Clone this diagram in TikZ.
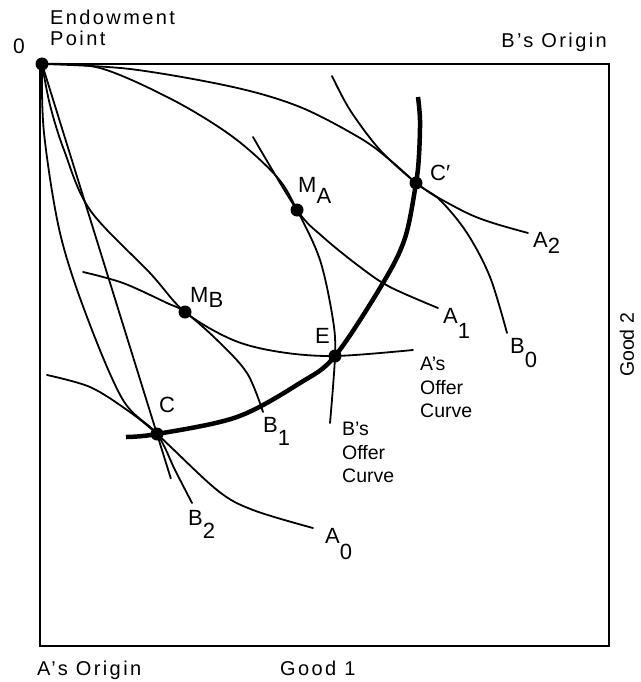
\documentclass[tikz,border=0pt]{standalone}
\usepackage{fontspec}
\setmainfont{Liberation Sans}
\newfontfamily\espace[LetterSpace=12]{Liberation Sans}
\usepackage{tikz}
\usetikzlibrary{calc}
\newcommand{\subl}[3][11pt]{#2\raisebox{-#1}{#3}}
\tikzset{
  cadre/.style={draw=black, line width=2.5pt},
  courbe/.style={draw=black, line width=1.8pt, line join=round, line cap=round},
  epais/.style={draw=black, line width=4.5pt, line join=round},
  pt/.style={circle, fill=black, inner sep=0pt, minimum size=13pt},
  etiq/.style={inner sep=0pt, font=\fontsize{22}{24}\selectfont},
  texte/.style={inner sep=0pt, font=\fontsize{19.5}{23.5}\selectfont, align=left},
  axe/.style={inner sep=0pt, font=\espace\fontsize{20}{20.5}\selectfont, align=left},
}

\begin{document}
\begin{tikzpicture}[x=1pt, y=-1pt]
  \useasboundingbox (0,0) rectangle (640,682);
  \coordinate (hg) at (40,64);
  \coordinate (bd) at (609,646);
  \draw[cadre] (hg) rectangle (bd);
  % points
  \node[pt] (O) at (42,64) {};
  \node[pt] (MA) at (297,210) {};
  \node[pt] (MB) at (185,312) {};
  \node[pt] (E) at (335,356) {};
  \node[pt] (C) at (157,434) {};
  \node[pt] (Cp) at (416,183) {};
  \coordinate (fin) at ($(O)!1.12!(C)$);
  % offer curves
  \draw[courbe] plot[smooth, tension=0.55] coordinates {(O.center) (50,105) (64,150) (90,210) (150,273) (MB.center) (233,340) (280,352) (E.center) (413,350)};
  \draw[courbe] plot[smooth, tension=0.55] coordinates {(O.center) (100,68) (173,100) (233,137) (277,177) (MA.center) (320,260) (333,320) (E.center) (330,423)};
  \draw[epais] plot[smooth, tension=0.55] coordinates {(126,437) (C.center) (237,417) (300,383) (E.center) (383,283) (405,238) (Cp.center) (419,155) (420,120) (418,97)};
  % indifference curves
  \draw[courbe] plot[smooth, tension=0.55] coordinates {(O.center) (130,69) (233,87) (300,107) (360,138) (390,160) (Cp.center) (430,193) (467,213) (493,223) (528,233)};
  \draw[courbe] plot[smooth, tension=0.55] coordinates {(332,76) (350,110) (380,150) (Cp.center) (440,200) (467,233) (490,277) (507,333)};
  \draw[courbe] plot[smooth, tension=0.55] coordinates {(253,137) (MA.center) (323,237) (360,267) (390,287) (438,308)};
  \draw[courbe] plot[smooth, tension=0.55] coordinates {(83,272) (123,283) (167,303) (MB.center) (217,340) (247,373) (263,412)};
  \draw[courbe] plot[smooth, tension=0.55] coordinates {(O.center) (44,133) (60,233) (87,317) (123,400) (C.center) (175,470) (192,503)};
  \draw[courbe] plot[smooth, tension=0.55] coordinates {(47,375) (90,387) (127,410) (C.center) (217,490) (253,510) (313,528)};
  \draw[courbe] (O.center) -- (fin);
  % labels
  \node[texte, font=\fontsize{21}{24}\selectfont] (zero) at (19,46) {0};
  \node[axe, anchor=north west] (dotation) at (50,10) {Endowment\\Point};
  \node[axe, anchor=base east] (origB) at (607,48) {B’s Origin};
  \node[axe, anchor=base west] (origA) at (37,675) {A’s Origin};
  \node[axe, anchor=base west] (bien1) at (280,675) {Good 1};
  \node[texte, font=\fontsize{19.5}{20}\selectfont, rotate=90] (bien2) at (627,345) {Good 2};
  \node[etiq, anchor=base west] (lMA) at (298,192) {\subl{M}{A}};
  \node[etiq, anchor=base west] (lMB) at (190,302) {\subl[5pt]{M}{B}};
  \node[etiq, anchor=base west] (lC) at (159,412) {C};
  \node[etiq, anchor=base west] (lE) at (315,343) {E};
  \node[etiq, anchor=base west] (lCp) at (430,180) {C′};
  \node[etiq, anchor=base west] (lA0) at (325,543) {\subl[16pt]{A}{0}};
  \node[etiq, anchor=base west] (lA1) at (443,323) {\subl[15pt]{A}{1}};
  \node[etiq, anchor=base west] (lA2) at (533,247) {\subl[6pt]{A}{2}};
  \node[etiq, anchor=base west] (lB0) at (510,353) {\subl[14pt]{B}{0}};
  \node[etiq, anchor=base west] (lB1) at (263,432) {\subl[13pt]{B}{1}};
  \node[etiq, anchor=base west] (lB2) at (188,525) {\subl[13pt]{B}{2}};
  \node[texte, anchor=north west] (offA) at (420,357) {A’s\\Offer\\Curve};
  \node[texte, anchor=north west] (offB) at (342,422) {B’s\\Offer\\Curve};
\end{tikzpicture}
\end{document}
